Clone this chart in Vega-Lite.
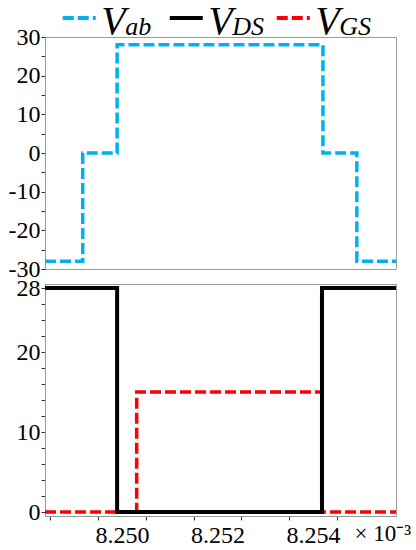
{
  "$schema": "https://vega.github.io/schema/vega-lite/v6.json",
  "background": "white",
  "padding": {"left": 7, "top": 2, "right": 2, "bottom": 2},
  "bounds": "flush",
  "spacing": 7,
  "config": {
    "font": "Liberation Serif",
    "view": {"stroke": "#999999", "strokeWidth": 1},
    "axis": {"labelFont": "Liberation Serif", "labelFontSize": 24, "labelColor": "#000000", "domainColor": "#999999", "tickColor": "#333333", "grid": false, "titleFont": "Liberation Serif"}
  },
  "datasets": {
    "sig": [
      {"series": "Vab", "t": 8.24839, "v": -28},
      {"series": "Vab", "t": 8.24918, "v": 0},
      {"series": "Vab", "t": 8.24990, "v": 28},
      {"series": "Vab", "t": 8.25421, "v": 0},
      {"series": "Vab", "t": 8.25492, "v": -28},
      {"series": "Vab", "t": 8.25574, "v": -28},
      {"series": "VDS", "t": 8.24839, "v": 28},
      {"series": "VDS", "t": 8.24990, "v": 0},
      {"series": "VDS", "t": 8.25419, "v": 28},
      {"series": "VDS", "t": 8.25574, "v": 28},
      {"series": "VGS", "t": 8.24839, "v": 0},
      {"series": "VGS", "t": 8.25031, "v": 15},
      {"series": "VGS", "t": 8.25419, "v": 0},
      {"series": "VGS", "t": 8.25574, "v": 0}
    ],
    "leg": [
      {"series": "Vab", "main": "V", "sub": "ab"},
      {"series": "VDS", "main": "V", "sub": "DS"},
      {"series": "VGS", "main": "V", "sub": "GS"}
    ]
  },
  "resolve": {"scale": {"color": "shared", "strokeDash": "shared"}},
  "vconcat": [
    {
      "width": 351,
      "height": 24,
      "view": {"stroke": null},
      "data": {"name": "leg"},
      "encoding": {
        "x": {"field": "series", "type": "nominal", "axis": null, "scale": {"type": "point", "domain": ["Vab", "VDS", "VGS"], "padding": 0.64, "align": 0.25}}
      },
      "layer": [
        {
          "mark": {"type": "point", "shape": "stroke", "filled": false, "size": 1089, "strokeWidth": 4, "opacity": 1},
          "encoding": {
            "color": {"field": "series", "type": "nominal", "legend": null, "scale": {"domain": ["Vab", "VDS", "VGS"], "range": ["#00B0F0", "#000000", "#FF0000"]}},
            "strokeDash": {"field": "series", "type": "nominal", "legend": null, "scale": {"domain": ["Vab", "VDS", "VGS"], "range": [[11, 4], [1, 0], [11, 4]]}}
          }
        },
        {
          "mark": {"type": "text", "align": "left", "baseline": "alphabetic", "dx": 22, "dy": 16, "fontSize": 40, "fontStyle": "italic", "font": "Liberation Serif", "color": "#000000"},
          "encoding": {"text": {"field": "main"}}
        },
        {
          "mark": {"type": "text", "align": "left", "baseline": "alphabetic", "dx": 46, "dy": 17, "fontSize": 26, "fontStyle": "italic", "font": "Liberation Serif", "color": "#000000"},
          "encoding": {"text": {"field": "sub"}}
        }
      ]
    },
    {
      "bounds": "flush",
      "spacing": 15,
      "vconcat": [
        {
          "width": 351,
          "height": 232,
          "data": {"name": "sig"},
          "transform": [{"filter": "datum.series == 'Vab'"}],
          "mark": {"type": "line", "interpolate": "step-after", "strokeWidth": 3.5, "strokeCap": "butt"},
          "encoding": {
            "x": {"field": "t", "type": "quantitative", "scale": {"domain": [8.24839, 8.25574], "nice": false, "zero": false}, "axis": null},
            "y": {"field": "v", "type": "quantitative", "scale": {"domain": [-30, 30], "nice": false, "zero": false},
              "axis": {"values": [-30, -25, -20, -15, -10, -5, 0, 5, 10, 15, 20, 25, 30], "labelExpr": "datum.value % 10 == 0 ? '' + datum.value : ''", "title": null, "tickSize": 4, "labelPadding": 1, "labelFont": "Liberation Serif", "labelFontSize": 24}},
            "color": {"field": "series", "type": "nominal", "legend": null, "scale": {"domain": ["Vab", "VDS", "VGS"], "range": ["#00B0F0", "#000000", "#FF0000"]}},
            "strokeDash": {"field": "series", "type": "nominal", "legend": null, "scale": {"domain": ["Vab", "VDS", "VGS"], "range": [[11, 4], [1, 0], [11, 4]]}}
          }
        },
        {
          "width": 351,
          "height": 232,
          "data": {"name": "sig"},
          "resolve": {"axis": {"x": "independent"}},
          "encoding": {
            "y": {"field": "v", "type": "quantitative", "scale": {"domain": [-0.5, 28.5], "nice": false, "zero": false},
              "axis": {"values": [0, 2, 4, 6, 8, 10, 12, 14, 16, 18, 20, 22, 24, 26, 28], "labelExpr": "indexof([0, 10, 20, 28], datum.value) >= 0 ? '' + datum.value : ''", "title": null, "tickSize": 4, "labelPadding": 1, "labelFont": "Liberation Serif", "labelFontSize": 24}},
            "color": {"field": "series", "type": "nominal", "legend": null, "scale": {"domain": ["Vab", "VDS", "VGS"], "range": ["#00B0F0", "#000000", "#FF0000"]}},
            "strokeDash": {"field": "series", "type": "nominal", "legend": null, "scale": {"domain": ["Vab", "VDS", "VGS"], "range": [[11, 4], [1, 0], [11, 4]]}}
          },
          "layer": [
            {
              "transform": [{"filter": "datum.series == 'VGS'"}],
              "mark": {"type": "line", "interpolate": "step-after", "strokeWidth": 3.5, "strokeCap": "butt"},
              "encoding": {
                "x": {"field": "t", "type": "quantitative", "scale": {"domain": [8.24839, 8.25574], "nice": false, "zero": false},
                  "axis": {"orient": "bottom", "values": [8.2485, 8.2495, 8.2505, 8.2515, 8.2525, 8.2535, 8.2545], "labels": false, "tickSize": 4, "title": null}}
              }
            },
            {
              "transform": [{"filter": "datum.series == 'VDS'"}],
              "mark": {"type": "line", "interpolate": "step-after", "strokeWidth": 4, "strokeCap": "butt"},
              "encoding": {
                "x": {"field": "t", "type": "quantitative", "scale": {"domain": [8.24839, 8.25574], "nice": false, "zero": false},
                  "axis": {"orient": "bottom", "values": [8.25, 8.252, 8.254], "ticks": false, "tickSize": 0, "domain": false, "labelPadding": 7, "labelFont": "Liberation Serif", "labelFontSize": 24, "labelExpr": "format(datum.value, '.3f')",
                    "title": "× 10⁻³", "titleFont": "Liberation Serif", "titleFontSize": 23, "titleFontWeight": "normal", "titleAlign": "left", "titleBaseline": "alphabetic", "titleX": 309, "titleY": 24}}
              }
            }
          ]
        }
      ]
    }
  ]
}
